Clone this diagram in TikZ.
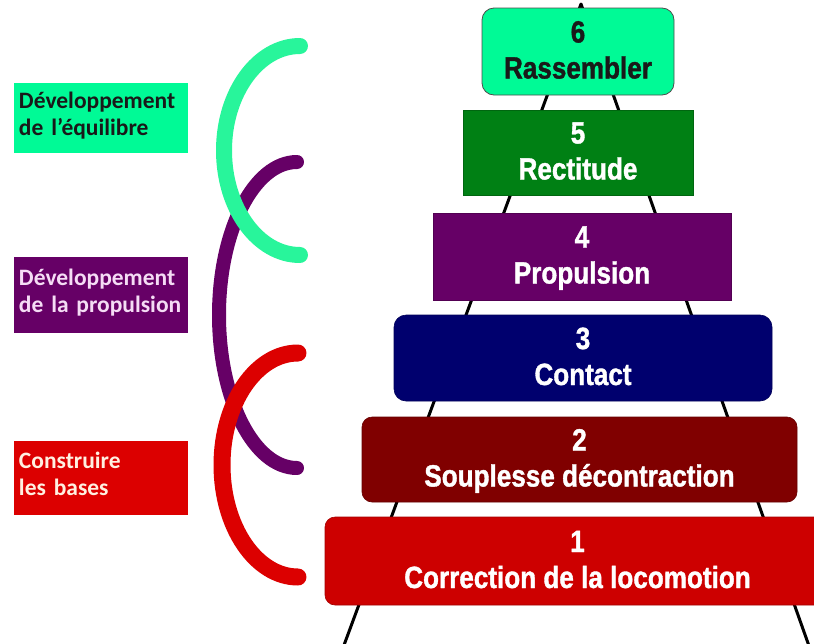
\documentclass[tikz,border=0pt]{standalone}
\usepackage{fontspec}
\setmainfont{Liberation Sans}
\newfontfamily\pyrfont[FakeStretch=0.85,FakeBold=1.2]{Liberation Sans}
\newfontfamily\lblfont{Carlito}
\definecolor{mint}{RGB}{0,250,150}
\definecolor{mintarc}{RGB}{40,245,155}
\definecolor{grn}{RGB}{0,128,20}
\definecolor{purp}{RGB}{102,0,102}
\definecolor{navy}{RGB}{0,0,110}
\definecolor{maroon}{RGB}{128,0,0}
\definecolor{redA}{RGB}{205,0,0}
\definecolor{redL}{RGB}{220,0,0}
\definecolor{pinktxt}{RGB}{245,220,245}
\definecolor{creamtxt}{RGB}{255,240,225}
\begin{document}
\begin{tikzpicture}[x=1pt,y=-1pt,
  tier/.style={inner sep=0pt, align=center, text=white,
    font=\pyrfont\bfseries\fontsize{30.7}{36}\selectfont},
  lbl/.style={inner xsep=5pt, inner ysep=0pt, text width=164pt, align=left,
    font=\lblfont\bfseries\fontsize{23.5}{27}\selectfont},
  bracket/.style={line width=#1, line cap=round}
]
\useasboundingbox (0,0) rectangle (814,643);

% pyramid sides
\coordinate (apex) at (581,4);
\coordinate (bl) at (338.5,660);
\coordinate (br) at (814,660);
\draw[line width=3pt, line join=round] (bl) -- (apex) -- (br);

% tiers
\node[tier, fill=mint, draw=black!70, line width=0.8pt, rounded corners=12pt, text=black!90,
  minimum width=192pt, minimum height=87pt] (b6) at (578,51.5)
  {\rule{0pt}{26pt}6\\Rassembler\rule[-8pt]{0pt}{8pt}};
\node[tier, fill=grn, draw=grn!80!black, line width=0.6pt,
  minimum width=230pt, minimum height=85pt] (b5) at (578,152.5)
  {\rule{0pt}{26pt}5\\Rectitude\rule[-8pt]{0pt}{8pt}};
\node[tier, fill=purp, draw=purp!80!black, line width=0.6pt,
  minimum width=298pt, minimum height=87pt] (b4) at (582,256.5)
  {\rule{0pt}{26pt}4\\Propulsion\rule[-8pt]{0pt}{8pt}};
\node[tier, fill=navy, draw=navy!80!black, line width=0.6pt, rounded corners=12pt,
  minimum width=378pt, minimum height=86pt] (b3) at (583,358)
  {\rule{0pt}{26pt}3\\Contact\rule[-8pt]{0pt}{8pt}};
\node[tier, fill=maroon, draw=maroon!80!black, line width=0.6pt, rounded corners=10pt,
  minimum width=435pt, minimum height=85pt] (b2) at (579.5,459.5)
  {\rule{0pt}{26pt}2\\Souplesse décontraction\rule[-8pt]{0pt}{8pt}};
\node[tier, fill=redA, draw=redA!80!black, line width=0.6pt, rounded corners=10pt,
  minimum width=505pt, minimum height=88pt] (b1) at (577.5,561)
  {\rule{0pt}{26pt}1\\Correction de la locomotion\rule[-8pt]{0pt}{8pt}};

% left labels
\node[lbl, fill=mint, text=black!90, minimum height=70pt] (l1) at (101,118)
  {\rule{0pt}{18pt}Développement\\de l’équilibre\rule[-11pt]{0pt}{11pt}};
\node[lbl, fill=purp, text=pinktxt, minimum height=76pt] (l2) at (101,295)
  {\rule{0pt}{18pt}Développement\\de la propulsion\rule[-11pt]{0pt}{11pt}};
\node[lbl, fill=redL, text=creamtxt, minimum height=74pt] (l3) at (101,478)
  {\rule{0pt}{18pt}Construire\\les bases\rule[-11pt]{0pt}{11pt}};

% brackets
\coordinate (pTop) at (297,162);
\coordinate (gTop) at (300,46);
\coordinate (rTop) at (298,353);
\draw[bracket=14pt, purp] (pTop) arc[start angle=270, end angle=90, x radius=78, y radius=153];
\draw[bracket=16pt, mintarc] (gTop) arc[start angle=270, end angle=90, x radius=76, y radius=104.5];
\draw[bracket=17pt, redL] (rTop) arc[start angle=270, end angle=90, x radius=76, y radius=112];
\end{tikzpicture}
\end{document}
